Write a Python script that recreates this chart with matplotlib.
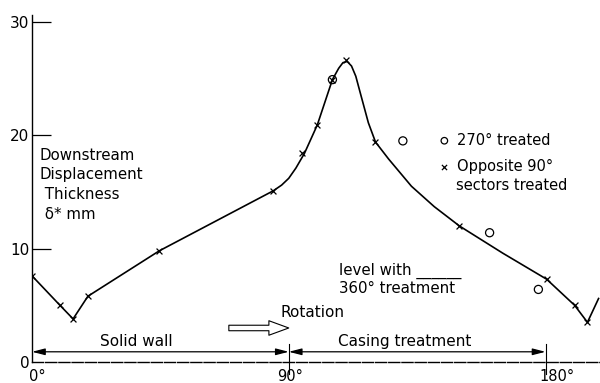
"""
Downstream displacement thickness around the casing circumference
"""
import matplotlib
matplotlib.use("Agg")
import matplotlib.pyplot as plt

# Opposite 90 deg sectors treated (x markers)
cross_deg = [0, 9.8, 14.4, 19.6, 44.6, 84.6, 94.7, 100, 105.3, 110, 120.4, 149.8, 180.4, 190.2, 194.7]
cross_val = [7.6, 5.0, 3.8, 5.8, 9.8, 15.1, 18.4, 20.9, 24.9, 26.6, 19.4, 12.0, 7.3, 5.0, 3.5]

# 270 deg treated (open circles)
circle_deg = [105.3, 130, 160.4, 177.5]
circle_val = [24.9, 19.5, 11.4, 6.4]

# hand-drawn fit curve
curve_deg = [0, 9.8, 14.4, 19.6, 44.6, 84.6, 87.5, 90, 92.5, 95.5, 100, 105.3, 107.5, 109,
             110.5, 112, 113.5, 115.1, 117.9, 120.4, 125, 133, 141, 149.8, 165, 180.4,
             190.2, 194.7, 198.6]
curve_val = [7.6, 5.0, 3.8, 5.8, 9.8, 15.1, 15.6, 16.2, 17.1, 18.4, 20.9, 24.9, 25.9, 26.4,
             26.5, 26.1, 25.2, 23.7, 21.1, 19.4, 17.9, 15.5, 13.7, 12.0, 9.6, 7.3,
             5.0, 3.5, 5.6]

y_ticks = [0, 10, 20, 30]
region_edges = [0, 90, 180]
region_names = ["Solid wall", "Casing treatment"]
x_labels = ["0\u00b0", "90\u00b0", "180\u00b0"]

plt.rcParams['font.family'] = ['DejaVu Sans']
plt.rcParams['font.size'] = 11

fig = plt.figure(figsize=(6.0, 3.83), dpi=100)
ax = fig.add_axes([32 / 600, 21 / 383, 1 - 32 / 600, 347 / 383])
ax.set_xlim(0, 199.1)
ax.set_ylim(0, 30.6)

# curve and points
ax.plot(curve_deg, curve_val, color='black', lw=1.2, zorder=2)
ax.scatter(cross_deg, cross_val, marker='x', s=18, color='black', linewidths=0.9, zorder=3)
ax.scatter(circle_deg, circle_val, marker='o', s=34, facecolors='none',
           edgecolors='black', linewidths=0.9, zorder=3)

# axes look
for side in ['top', 'right']:
    ax.spines[side].set_visible(False)
ax.spines['left'].set_linewidth(1.0)
ax.spines['bottom'].set_linewidth(1.0)
ax.spines['bottom'].set_linestyle((0, (8, 1.5)))
ax.set_yticks(y_ticks)
ax.set_yticklabels([str(t) for t in y_ticks])
ax.tick_params(axis='y', direction='in', length=14, width=0.9, pad=2, labelsize=11)
ax.yaxis.get_major_ticks()[0].tick1line.set_visible(False)
ax.set_xticks([])

# x labels below the axis
label_pos = [(-1.0, 'left'), (90.3, 'center'), (178.0, 'left')]
for (xp, ha), lab in zip(label_pos, x_labels):
    ax.text(xp, -0.6, lab, ha=ha, va='top', fontsize=10.5, clip_on=False)

# region arrows along the bottom
arrow_y = 0.9
name_shift = [-8.4, -4.3]
for i, name in enumerate(region_names):
    x0, x1 = region_edges[i], region_edges[i + 1]
    ax.annotate('', xy=(x0, arrow_y), xytext=(x1, arrow_y),
                arrowprops=dict(arrowstyle='<|-|>,head_length=0.7,head_width=0.18',
                                color='black', lw=0.9, shrinkA=0, shrinkB=0))
    ax.text((x0 + x1) / 2 + name_shift[i], arrow_y + 0.25, name,
            ha='center', va='bottom', fontsize=11)
for edge in region_edges[1:]:
    ax.plot([edge, edge], [-1.1, 1.6], color='black', lw=0.8, clip_on=False)

# rotation arrow
ax.annotate('', xy=(90.0, 3.0), xytext=(69.0, 3.0),
            arrowprops=dict(arrowstyle='simple,head_width=0.95,head_length=1.3,tail_width=0.36',
                            fc='white', ec='black', lw=0.8, shrinkA=0, shrinkB=0))
ax.text(87.0, 4.4, "Rotation", ha='left', va='center', fontsize=11)

# axis title inside the plot
ax.text(2.8, 18.9, "Downstream\nDisplacement\n Thickness\n \u03b4* mm",
        ha='left', va='top', fontsize=10.8, linespacing=1.4)

# 360 treatment note
ax.text(107.5, 5.8, "level with ______\n360\u00b0 treatment", ha='left', va='bottom',
        fontsize=10.8, linespacing=1.15)

# legend
h1 = ax.scatter([], [], marker='o', s=22, facecolors='none', edgecolors='black', linewidths=0.9)
h2 = ax.scatter([], [], marker='x', s=14, color='black', linewidths=0.9)
ax.legend([h1, h2], ["270\u00b0 treated", "Opposite 90\u00b0"],
          loc='upper left', bbox_to_anchor=(0.708, 0.678), frameon=False,
          handlelength=0.6, handletextpad=0.6, labelspacing=0.8, fontsize=10.5,
          borderaxespad=0)
ax.text(148.6, 15.6, "sectors treated", ha='left', va='center', fontsize=10.5)

fig.savefig("out.png", dpi=100)
